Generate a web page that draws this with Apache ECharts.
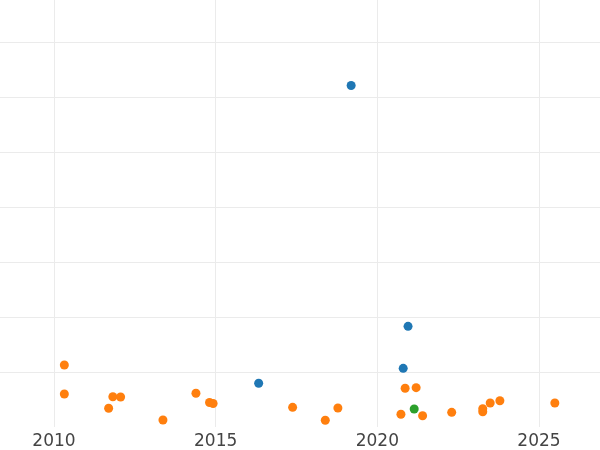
<!DOCTYPE html>
<html>
<head>
<meta charset="utf-8">
<script src="https://cdn.jsdelivr.net/npm/echarts@6/dist/echarts.min.js"></script>
<style>html,body{margin:0;padding:0;background:#fff;}#chart{width:600px;height:450px;}</style>
</head>
<body>
<div id="chart"></div>
<script>
// Data (x = decimal year, y = value)
const blueX = [2019.19, 2016.33, 2020.80, 2020.95];
const blueY = [62.1, 7.95, 10.67, 18.3];

const orangeX = [2010.32, 2010.32, 2011.69, 2011.82, 2012.06, 2013.37, 2014.39, 2014.81, 2014.92,
  2017.38, 2018.39, 2018.78, 2020.73, 2020.86, 2021.20, 2021.40, 2022.30, 2023.26, 2023.26,
  2023.49, 2023.79, 2025.49];
const orangeY = [11.27, 6.0, 3.4, 5.51, 5.45, 1.27, 6.13, 4.45, 4.27,
  3.58, 1.22, 3.45, 2.31, 7.04, 7.15, 2.05, 2.67, 3.33, 2.78,
  4.36, 4.78, 4.36];

const greenX = [2021.14];
const greenY = [3.27];

const xTicks = [2005, 2010, 2015, 2020, 2025, 2030];

const zip = (xs, ys) => xs.map((x, i) => [x, ys[i]]);

const chart = echarts.init(document.getElementById('chart'), null, {renderer: 'canvas'});
chart.setOption({
  animation: false,
  backgroundColor: '#ffffff',
  grid: {left: -107.67, right: -100.67, top: -13, bottom: 23, containLabel: false, outerBoundsMode: 'none'},
  xAxis: {
    type: 'value',
    min: xTicks[0], max: xTicks[xTicks.length - 1], interval: 5,
    axisLine: {show: false}, axisTick: {show: false},
    splitLine: {show: true, lineStyle: {color: '#ebebeb', width: 1}},
    axisLabel: {color: '#444444', fontSize: 17, fontFamily: 'DejaVu Sans', margin: 6,
      formatter: v => String(v)}
  },
  yAxis: {
    type: 'value', min: 0, max: 80, interval: 10,
    axisLine: {show: false}, axisTick: {show: false}, axisLabel: {show: false},
    splitLine: {show: true, showMinLine: false, lineStyle: {color: '#ebebeb', width: 1}}
  },
  series: [
    {type: 'scatter', data: zip(blueX, blueY), symbolSize: 9, itemStyle: {color: '#1f77b4', opacity: 1}},
    {type: 'scatter', data: zip(orangeX, orangeY), symbolSize: 9, itemStyle: {color: '#ff7f0e', opacity: 1}},
    {type: 'scatter', data: zip(greenX, greenY), symbolSize: 9, itemStyle: {color: '#2ca02c', opacity: 1}}
  ]
});
</script>
</body>
</html>
